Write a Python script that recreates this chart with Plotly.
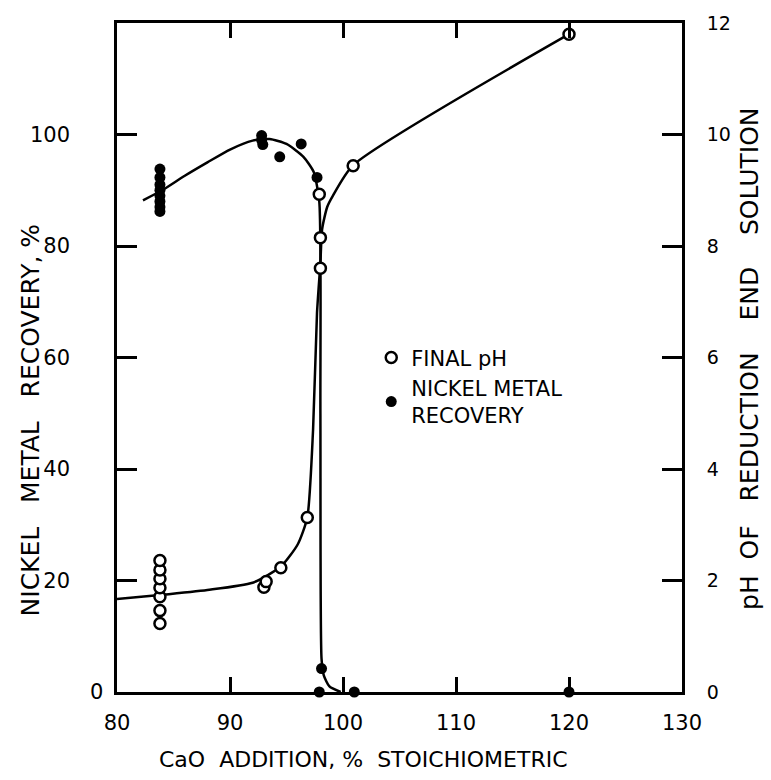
import plotly.graph_objects as go

# ---- data ----
# Final pH (open circles), right axis
ph_x = [83.8, 83.8, 83.8, 83.8, 83.8, 83.8, 83.8, 93.0, 93.2, 94.5, 96.84, 97.9, 98.0, 98.0, 100.9, 120.0]
ph_y = [1.23, 1.46, 1.71, 1.87, 2.03, 2.19, 2.36, 1.88, 1.98, 2.23, 3.13, 8.93, 8.15, 7.6, 9.44, 11.8]

# Nickel metal recovery (filled dots), left axis
ni_x = [83.8, 83.8, 83.8, 83.8, 83.8, 83.8, 83.8, 83.8, 92.8, 92.8, 92.9, 94.4, 96.3, 97.7, 98.1, 97.9, 101.0, 120.0]
ni_y = [93.8, 92.3, 91.0, 90.0, 89.0, 88.0, 87.0, 86.2, 99.8, 99.0, 98.2, 96.0, 98.3, 92.3, 4.2, 0.0, 0.0, 0.0]

# hand-drawn fitted curves
ph_curve_x = [80.0, 83.8, 88.0, 92.0, 94.5, 96.0, 96.84, 97.35, 97.7, 98.0, 98.15, 98.6, 99.1, 100.9, 120.0]
ph_curve_y = [1.67, 1.74, 1.83, 1.96, 2.25, 2.65, 3.13, 4.7, 6.8, 7.7, 8.3, 8.7, 8.9, 9.45, 11.8]

ni_curve_x = [82.3, 84.0, 86.0, 88.0, 90.0, 92.0, 93.5, 95.0, 96.5, 97.4, 97.9, 98.0, 98.1, 98.3, 98.8, 99.8]
ni_curve_y = [88.2, 90.0, 92.6, 95.0, 97.3, 98.9, 99.2, 98.3, 96.0, 93.3, 88.0, 50.0, 6.0, 3.0, 1.0, 0.0]

# axis ticks / labels
x_ticks = [80, 90, 100, 110, 120, 130]
left_ticks = [0, 20, 40, 60, 80, 100]
right_ticks = [0, 2, 4, 6, 8, 10, 12]

X_RANGE = [80, 130]
Y_RANGE = [0, 120]
Y2_RANGE = [0, 12]

FONT = "DejaVu Sans"
INK = "black"
TICK = "rgb(0,0,0)"
NB = "\u00a0"

left_text = [str(v) + NB * (1 if v == 0 else 6) for v in left_ticks]
right_text = [NB * 3 + str(v) for v in right_ticks]

W, H = 771, 780
ML, MR, MT, MB = 117, 89, 17, 88
PW, PH = W - ML - MR, H - MT - MB

fig = go.Figure()

fig.add_trace(go.Scatter(x=ph_curve_x, y=ph_curve_y, yaxis="y2", mode="lines",
                         line=dict(color=INK, width=2.5, shape="spline", smoothing=0.6),
                         showlegend=False, hoverinfo="skip"))
fig.add_trace(go.Scatter(x=ni_curve_x, y=ni_curve_y, mode="lines",
                         line=dict(color=INK, width=2.5, shape="spline", smoothing=0.6),
                         showlegend=False, hoverinfo="skip", cliponaxis=False))

fig.add_trace(go.Scatter(x=ph_x, y=ph_y, yaxis="y2", mode="markers", name="FINAL pH",
                         marker=dict(symbol="circle", size=11, color="white",
                                     line=dict(color=INK, width=2.5)),
                         cliponaxis=False))
fig.add_trace(go.Scatter(x=ni_x, y=ni_y, mode="markers", name="NICKEL METAL<br>RECOVERY",
                         marker=dict(symbol="circle", size=11, color=INK,
                                     line=dict(color=INK, width=0)),
                         cliponaxis=False))

axis_common = dict(showgrid=False, zeroline=False, showline=True, linecolor=INK, linewidth=2.5,
                   ticks="inside", tickcolor=TICK, tickwidth=3)

fig.update_layout(
    width=W, height=H,
    margin=dict(l=ML, r=MR, t=MT, b=MB),
    paper_bgcolor="white", plot_bgcolor="white",
    font=dict(family=FONT, color=INK),
    xaxis=dict(range=X_RANGE, tickvals=x_ticks, ticktext=[str(v) for v in x_ticks],
               mirror="ticks", ticklen=15, ticklabelstandoff=10,
               tickfont=dict(family=FONT, size=21, color=INK), **axis_common),
    yaxis=dict(range=Y_RANGE, tickvals=left_ticks, ticktext=left_text, ticklen=20,
               tickfont=dict(family=FONT, size=21, color=INK), **axis_common),
    yaxis2=dict(range=Y2_RANGE, tickvals=right_ticks, ticktext=right_text, ticklen=20,
                overlaying="y", side="right",
                tickfont=dict(family=FONT, size=19, color=INK), **axis_common),
    legend=dict(x=0.45, y=0.53, xanchor="left", yanchor="top", bgcolor="rgba(0,0,0,0)",
                font=dict(family=FONT, size=21, color=INK), valign="middle",
                tracegroupgap=4, itemwidth=30),
    showlegend=True,
)

def px_to_paper(px, py):
    return (px - ML) / PW, (H - MB - py) / PH

ax, ay = px_to_paper(363, 760)
lx, ly = px_to_paper(30, 418)
rx, ry = px_to_paper(750, 356)
fig.add_annotation(text="CaO  ADDITION, %  STOICHIOMETRIC", x=ax, y=ay, xref="paper", yref="paper",
                   xanchor="center", yanchor="middle",
                   showarrow=False, font=dict(family=FONT, size=22, color=INK))
fig.add_annotation(text="NICKEL   METAL   RECOVERY, %", x=lx, y=ly, xref="paper", yref="paper",
                   xanchor="center", yanchor="middle",
                   showarrow=False, textangle=-90, font=dict(family=FONT, size=25, color=INK))
fig.add_annotation(text="pH  OF   REDUCTION    END    SOLUTION", x=rx, y=ry, xref="paper", yref="paper",
                   xanchor="center", yanchor="middle",
                   showarrow=False, textangle=-90, font=dict(family=FONT, size=25, color=INK))

fig.write_html("out.html")
